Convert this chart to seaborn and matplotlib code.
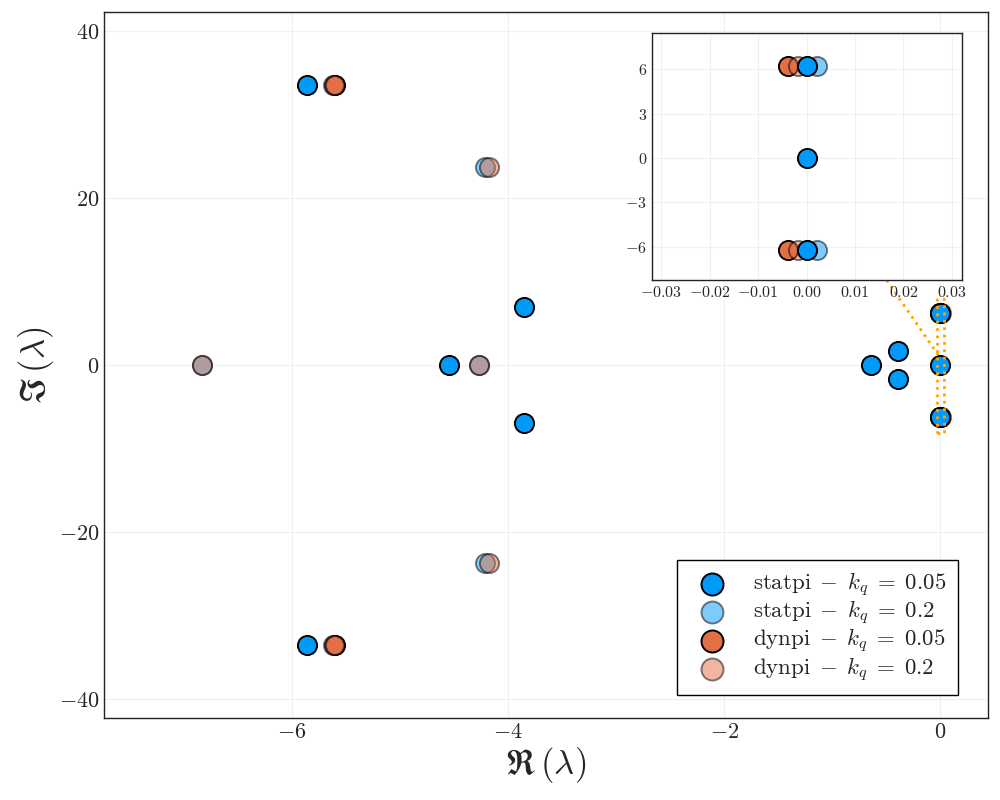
import numpy as np
import pandas as pd
import matplotlib
matplotlib.use('Agg')
import matplotlib.pyplot as plt
from matplotlib.ticker import FuncFormatter
import seaborn as sns

# Pole-Daten (Realteil / Imaginärteil)
statpi_05_re = [-5.86, -5.86, -4.55, -3.85, -3.85, -0.64, -0.39, -0.39, 0.0, 0.0, 0.0]
statpi_05_im = [33.5, -33.5, 0.0, 7.0, -7.0, 0.0, 1.65, -1.65, 6.2, 0.0, -6.2]

statpi_2_re = [-5.62, -5.62, -4.21, -4.21, -6.83, -4.27, 0.0021, 0.0021]
statpi_2_im = [33.5, -33.5, 23.7, -23.7, 0.0, 0.0, 6.2, -6.2]

dynpi_05_re = [-5.60, -5.60, -0.0039, -0.0039]
dynpi_05_im = [33.5, -33.5, 6.2, -6.2]

dynpi_2_re = [-5.61, -5.61, -4.18, -4.18, -6.83, -4.27, -0.0018, -0.0018]
dynpi_2_im = [33.5, -33.5, 23.7, -23.7, 0.0, 0.0, 6.2, -6.2]

labels = [r'$\mathrm{statpi}\;-\;k_q\;=\;0.05$', r'$\mathrm{statpi}\;-\;k_q\;=\;0.2$',
          r'$\mathrm{dynpi}\;-\;k_q\;=\;0.05$', r'$\mathrm{dynpi}\;-\;k_q\;=\;0.2$']

blue = '#009AFA'
orange = '#E26F46'

series = [
    (statpi_2_re, statpi_2_im, blue, 0.5, labels[1]),
    (dynpi_05_re, dynpi_05_im, orange, 1.0, labels[2]),
    (dynpi_2_re, dynpi_2_im, orange, 0.5, labels[3]),
    (statpi_05_re, statpi_05_im, blue, 1.0, labels[0]),
]

sns.set_style('white')
plt.rcParams['font.family'] = 'serif'
plt.rcParams['font.serif'] = ['cmr10', 'DejaVu Serif']
plt.rcParams['mathtext.fontset'] = 'cm'
plt.rcParams['axes.formatter.use_mathtext'] = True
plt.rcParams['axes.unicode_minus'] = True

fig = plt.figure(figsize=(10, 8), dpi=100)
ax = fig.add_axes([0.104, 0.1025, 0.884, 0.8825])
axin = fig.add_axes([0.652, 0.65, 0.31, 0.30875])


def draw(a, size, legend):
    for re, im, col, al, lab in series:
        df = pd.DataFrame({'re': re, 'im': im})
        sns.scatterplot(data=df, x='re', y='im', ax=a, color=col, alpha=al, s=size,
                        edgecolor='black', linewidth=1.4, label=lab if legend else None,
                        legend=legend, zorder=3)


draw(ax, 190, True)
draw(axin, 190, False)

for a in (ax, axin):
    a.grid(True, color='#F0F0F0', linewidth=0.8)
    a.set_axisbelow(True)
    for sp in a.spines.values():
        sp.set_color('#222222')
        sp.set_linewidth(1.0)
    a.tick_params(direction='in', length=4, color='#222222', top=False, right=False)
    a.set_xlabel('')
    a.set_ylabel('')

# Hauptachse
ax.set_xlim(-7.74, 0.44)
ax.set_ylim(-42.3, 42.3)
ax.set_xticks([-6, -4, -2, 0])
ax.set_yticks([-40, -20, 0, 20, 40])
ax.tick_params(labelsize=16)
ax.set_xlabel(r'$\mathfrak{R}\,(\lambda)$', fontsize=25, labelpad=2)
ax.set_ylabel(r'$\mathfrak{I}\,(\lambda)$', fontsize=25, labelpad=2)

# Lupe
ax.plot([-0.03, 0.035, 0.035, -0.03, -0.03], [-8.1, -8.1, 7.9, 7.9, -8.1],
        color='orange', linestyle=':', linewidth=2, zorder=4)
ax.plot([-0.02, -0.50], [1.2, 10.2], color='orange', linestyle=':', linewidth=2, zorder=4)

axin.set_facecolor('white')
axin.set_xlim(-0.0319, 0.0321)
axin.set_ylim(-8.23, 8.43)
axin.set_xticks([-0.03, -0.02, -0.01, 0.0, 0.01, 0.02, 0.03])
axin.set_yticks([-6, -3, 0, 3, 6])
axin.xaxis.set_major_formatter(FuncFormatter(lambda v, p: f'${v:.2f}$'))
axin.tick_params(labelsize=11.5)

# Legende in Originalreihenfolge
handles, labs = ax.get_legend_handles_labels()
order = [labs.index(l) for l in labels]
leg = ax.legend([handles[i] for i in order], [labs[i] for i in order],
                loc='lower right', bbox_to_anchor=(0.966, 0.0326), borderaxespad=0,
                fontsize=16.5, fancybox=False, framealpha=1, edgecolor='black',
                markerscale=1.15, handletextpad=0.8, borderpad=0.5, labelspacing=0.0)
leg.get_frame().set_linewidth(1.0)

fig.savefig('out.png', dpi=100)
